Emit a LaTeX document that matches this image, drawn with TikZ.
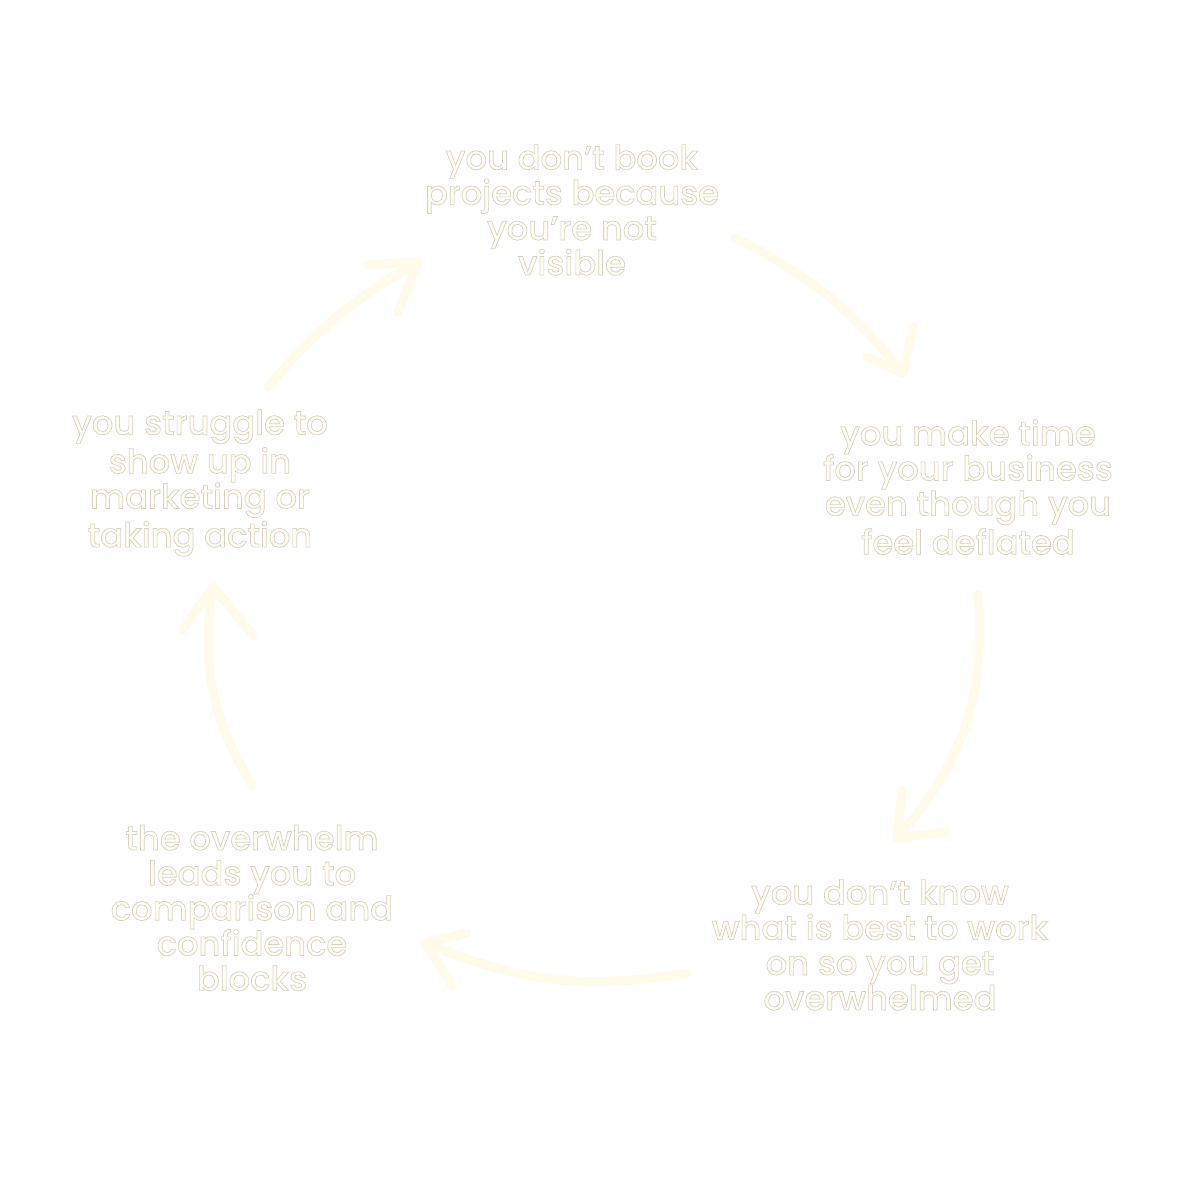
\documentclass[tikz,border=0pt]{standalone}
\usepackage{fontspec}
\setmainfont{Poppins Medium}
\usetikzlibrary{positioning}
\definecolor{cream}{HTML}{FFFAEA}
\definecolor{textfill}{HTML}{FFFDF3}
\newcommand{\outlined}[1]{\special{pdf:literal direct 0.84 0.82 0.76 RG 2 Tr 0.2 w}#1\special{pdf:literal direct 0 Tr}}
\tikzset{
  cycletext/.style={align=center, text=textfill, font=\fontsize{9.6}{10}\selectfont},
  brush/.style={draw=cream, line width=2.6pt, line cap=round, line join=round},
}
\begin{document}
\begin{tikzpicture}
\useasboundingbox[fill=white] (0,0) rectangle (12,12);
\node[cycletext] (top) at (5.72,9.90) {\outlined{you don’t book\\projects because\\you’re not\\visible}};
\node[cycletext] (right) at (9.68,7.13) {\outlined{you make time\\for your business\\even though you\\feel deflated}};
\node[cycletext] (botright) at (8.80,2.55) {\outlined{you don’t know\\what is best to work\\on so you get\\overwhelmed}};
\node[cycletext] (botleft) at (2.52,2.92) {\outlined{the overwhelm\\leads you to\\comparison and\\confidence\\blocks}};
\node[cycletext] (left) at (2.00,7.17) {\outlined{you struggle to\\show up in\\marketing or\\taking action}};
\coordinate (a1s) at (7.35,9.62);
\coordinate (a1t) at (9.03,8.27);
\coordinate (a2s) at (9.78,6.05);
\coordinate (a2t) at (8.97,3.62);
\coordinate (a3s) at (6.87,2.27);
\coordinate (a3t) at (4.25,2.57);
\coordinate (a4s) at (2.52,4.15);
\coordinate (a4t) at (2.13,6.13);
\coordinate (a5s) at (2.68,8.13);
\coordinate (a5t) at (4.18,9.38);
\draw[brush] (a1s) to[bend left=12] (a1t);
\draw[brush] (9.13,8.73) -- (a1t) -- (8.67,8.43);
\draw[brush] (a2s) to[bend left=23] (a2t);
\draw[brush] (9.02,4.10) -- (a2t) -- (9.45,3.68);
\draw[brush] (a3s) to[bend left=16] (a3t);
\draw[brush] (4.67,2.67) -- (a3t) -- (4.52,2.15);
\draw[brush] (a4s) to[bend left=20] (a4t);
\draw[brush] (1.82,5.70) -- (a4t) -- (2.53,5.65);
\draw[brush] (a5s) to[bend left=10] (a5t);
\draw[brush] (3.68,9.35) -- (a5t) -- (3.98,8.88);
\end{tikzpicture}
\end{document}
